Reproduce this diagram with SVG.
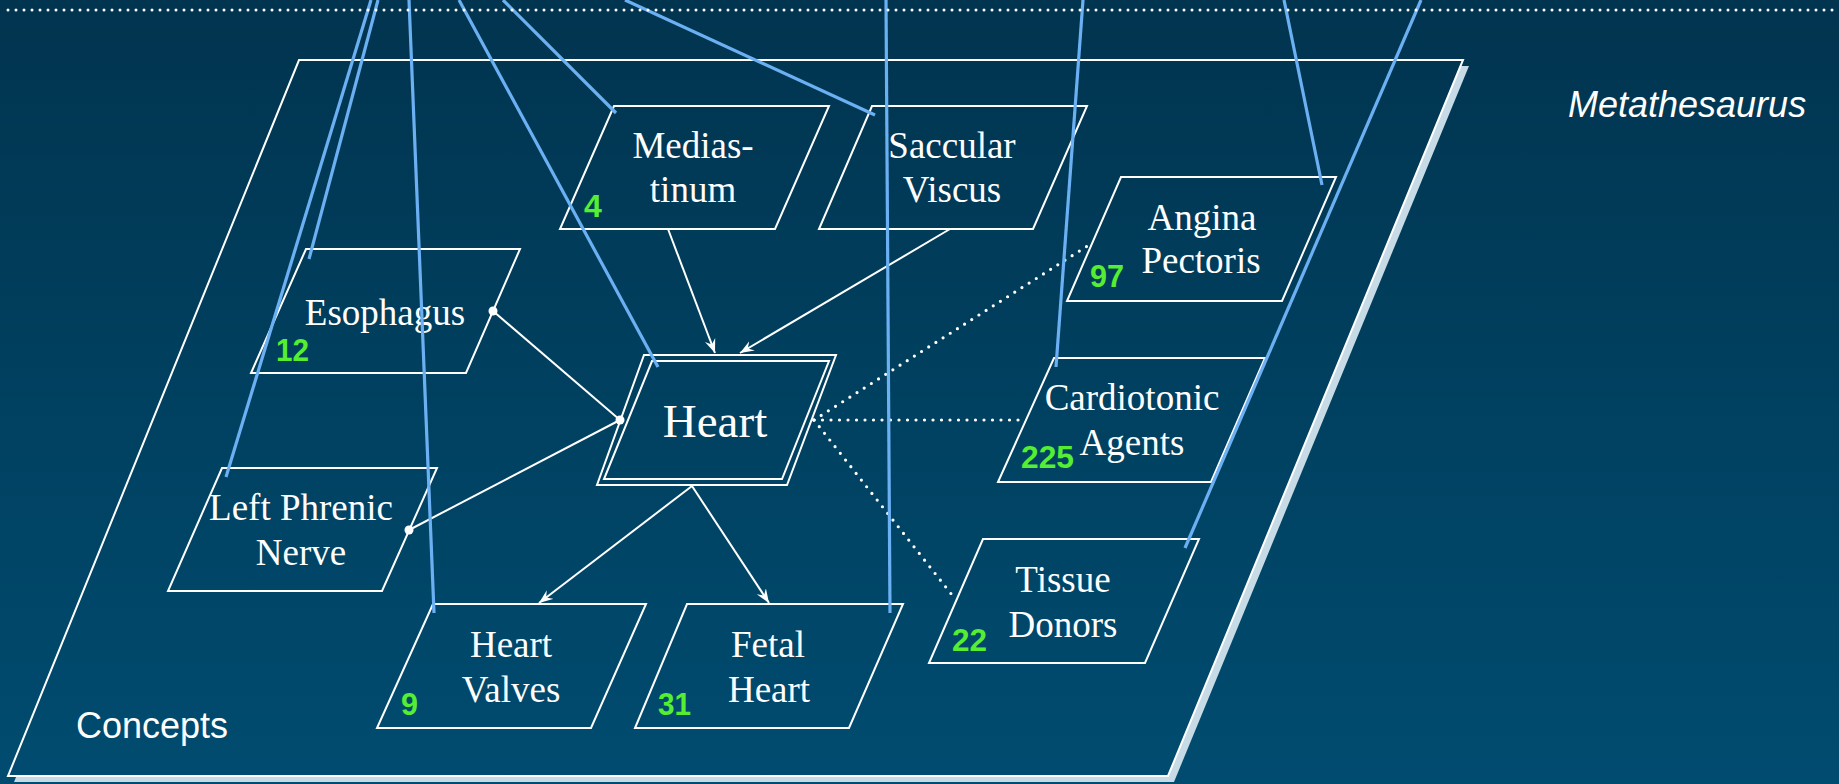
<svg xmlns="http://www.w3.org/2000/svg" width="1839" height="784" viewBox="0 0 1839 784">
<defs>
<linearGradient id="bg" gradientUnits="userSpaceOnUse" x1="0" y1="0" x2="0" y2="784">
<stop offset="0" stop-color="#01344f"/>
<stop offset="1" stop-color="#004c70"/>
</linearGradient>
<marker id="arr" viewBox="-14 -6 16 12" refX="0" refY="0" markerWidth="16" markerHeight="12" markerUnits="userSpaceOnUse" orient="auto">
<path d="M0,0 L-14,-5.5 L-9,0 L-14,5.5 Z" fill="#ffffff"/>
</marker>
<marker id="dot" viewBox="-5 -5 10 10" refX="0" refY="0" markerWidth="10" markerHeight="10" markerUnits="userSpaceOnUse">
<circle cx="0" cy="0" r="4.5" fill="#ffffff"/>
</marker>
</defs>
<style>
.node{fill:none;stroke:#ffffff;stroke-width:2}
.lbl{font-family:"Liberation Serif","Times New Roman",serif;font-size:37px;fill:#ffffff;text-anchor:middle}
.big{font-size:47px}
.num{font-family:"Liberation Sans",Arial,sans-serif;font-size:32px;font-weight:bold;fill:#55ee33}
.edge{fill:none;stroke:#ffffff;stroke-width:2}
.dotted{fill:none;stroke:#ffffff;stroke-width:3.2;stroke-linecap:round;stroke-dasharray:0 8.5}
.blue{fill:none;stroke:#6cb0f4;stroke-width:3.2}
</style>
<rect x="0" y="0" width="1839" height="784" fill="url(#bg)"/>
<g id="plane">
<polygon points="305,66 1469,66 1174,782 14,782" fill="#c6dbe6"/>
<polygon points="299,60 1463,60 1168,776 8,776" fill="url(#bg)" stroke="#ffffff" stroke-width="2"/>
<text x="76" y="738" font-family="'Liberation Sans',Arial,sans-serif" font-size="36" fill="#ffffff">Concepts</text>
</g>
<text id="metathesaurus" x="1568" y="117" font-family="'Liberation Sans',Arial,sans-serif" font-size="36" font-style="italic" fill="#ffffff">Metathesaurus</text>
<g id="mediastinum">
<polygon class="node" points="614,106 829,106 775,229 560,229"/>
<text class="lbl" x="693" y="158">Medias-</text>
<text class="lbl" x="693" y="202">tinum</text>
<text class="num" x="584" y="217">4</text>
</g>
<g id="saccular-viscus">
<polygon class="node" points="872,106 1087,106 1033,229 819,229"/>
<text class="lbl" x="952" y="158">Saccular</text>
<text class="lbl" x="952" y="202">Viscus</text>
</g>
<g id="esophagus">
<polygon class="node" points="306,249 520,249 466,373 251,373"/>
<text class="lbl" x="385" y="325">Esophagus</text>
<text class="num" x="276" y="361" textLength="33" lengthAdjust="spacingAndGlyphs">12</text>
</g>
<g id="left-phrenic-nerve">
<polygon class="node" points="222,468 437,468 382,591 168,591"/>
<text class="lbl" x="301" y="520">Left Phrenic</text>
<text class="lbl" x="301" y="565">Nerve</text>
</g>
<g id="heart">
<polygon class="node" points="644,355 836,355 787,485 597,485"/>
<polygon class="node" points="652,361 829,361 782,479 604,479"/>
<text class="lbl big" x="715" y="437">Heart</text>
</g>
<g id="angina-pectoris">
<polygon class="node" points="1121,177 1336,177 1282,301 1067,301"/>
<text class="lbl" x="1202" y="230">Angina</text>
<text class="lbl" x="1201" y="273">Pectoris</text>
<text class="num" x="1090" y="287" textLength="34" lengthAdjust="spacingAndGlyphs">97</text>
</g>
<g id="cardiotonic-agents">
<polygon class="node" points="1054,358 1265,358 1211,482 998,482"/>
<text class="lbl" x="1132" y="410">Cardiotonic</text>
<text class="lbl" x="1132" y="455">Agents</text>
<text class="num" x="1021" y="468" textLength="53" lengthAdjust="spacingAndGlyphs">225</text>
</g>
<g id="tissue-donors">
<polygon class="node" points="983,539 1199,539 1145,663 929,663"/>
<text class="lbl" x="1063" y="592">Tissue</text>
<text class="lbl" x="1063" y="637">Donors</text>
<text class="num" x="952" y="651" textLength="35" lengthAdjust="spacingAndGlyphs">22</text>
</g>
<g id="heart-valves">
<polygon class="node" points="433,604 646,604 591,728 377,728"/>
<text class="lbl" x="511" y="657">Heart</text>
<text class="lbl" x="511" y="702">Valves</text>
<text class="num" x="401" y="715" textLength="17" lengthAdjust="spacingAndGlyphs">9</text>
</g>
<g id="fetal-heart">
<polygon class="node" points="687,604 903,604 849,728 635,728"/>
<text class="lbl" x="768" y="657">Fetal</text>
<text class="lbl" x="769" y="702">Heart</text>
<text class="num" x="658" y="715" textLength="33" lengthAdjust="spacingAndGlyphs">31</text>
</g>
<g id="connectors">
<line class="edge" x1="668" y1="229" x2="715" y2="353" marker-end="url(#arr)"/>
<line class="edge" x1="950" y1="229" x2="740" y2="353" marker-end="url(#arr)"/>
<line class="edge" x1="493" y1="311" x2="620" y2="420" marker-start="url(#dot)" marker-end="url(#dot)"/>
<line class="edge" x1="409" y1="530" x2="620" y2="420" marker-start="url(#dot)"/>
<line class="edge" x1="692" y1="486" x2="539" y2="603" marker-end="url(#arr)"/>
<line class="edge" x1="692" y1="486" x2="769" y2="603" marker-end="url(#arr)"/>
<line class="dotted" x1="814" y1="420" x2="1092" y2="243"/>
<line class="dotted" x1="814" y1="420" x2="1024" y2="420"/>
<line class="dotted" x1="814" y1="420" x2="956" y2="600"/>
</g>
<g id="metathesaurus-links">
<line class="blue" x1="371" y1="0" x2="226" y2="477"/>
<line class="blue" x1="378" y1="0" x2="309" y2="259"/>
<line class="blue" x1="409" y1="0" x2="434" y2="613"/>
<line class="blue" x1="459" y1="0" x2="658" y2="367"/>
<line class="blue" x1="503" y1="0" x2="616" y2="113"/>
<line class="blue" x1="625" y1="0" x2="875" y2="115"/>
<line class="blue" x1="886" y1="0" x2="890" y2="613"/>
<line class="blue" x1="1083" y1="0" x2="1056" y2="367"/>
<line class="blue" x1="1284" y1="0" x2="1322" y2="185"/>
<line class="blue" x1="1421" y1="0" x2="1185" y2="548"/>
</g>
<line id="layer-divider" x1="8" y1="10" x2="1839" y2="10" stroke="#ffffff" stroke-width="3" stroke-linecap="round" stroke-dasharray="0 8"/>
</svg>
